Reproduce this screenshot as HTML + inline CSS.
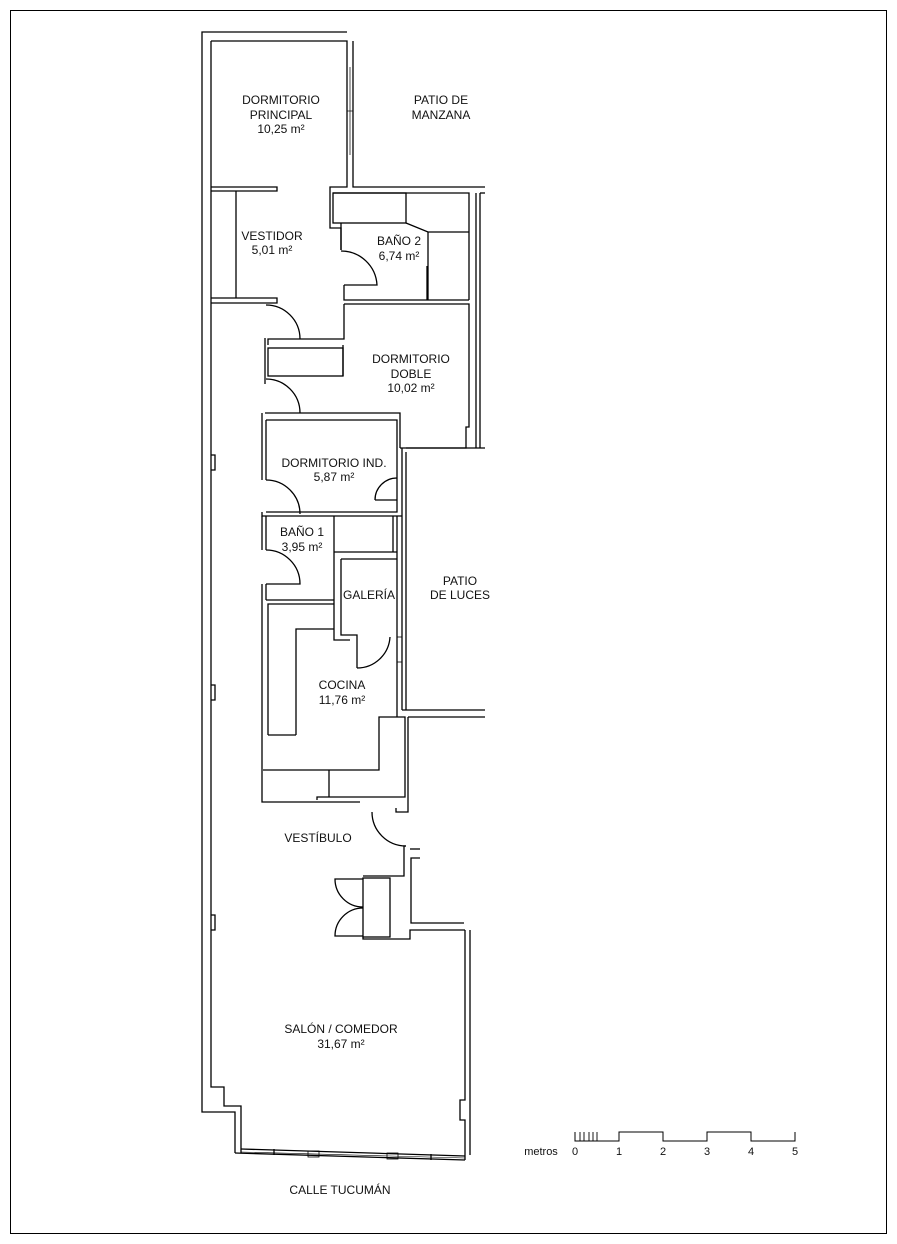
<!DOCTYPE html>
<html><head><meta charset="utf-8"><style>
html,body{margin:0;padding:0;background:#fff;}
svg{display:block;}
text{font-family:"Liberation Sans",sans-serif;font-size:12px;fill:#111;text-anchor:middle;}
</style></head><body>
<svg width="897" height="1244" viewBox="0 0 897 1244" xmlns="http://www.w3.org/2000/svg">
<rect x="10.5" y="10.5" width="876" height="1223" fill="none" stroke="#000" stroke-width="1"/>
<g fill="none" stroke="#000" stroke-width="1.3">
<!-- outer left -->
<polyline points="347,32 202,32 202,1112 235,1112 235,1153"/>
<polyline points="211,41 211,1087 224,1087 224,1106 241,1106 241,1153"/>
<!-- dormitorio principal -->
<polyline points="211,41 347,41 347,187 330,187 330,228 341,228 341,250"/>
<polyline points="353,41 353,187 485,187"/>
<line x1="350" y1="67" x2="350" y2="155" stroke-width="0.7"/>
<line x1="347" y1="111" x2="353" y2="111" stroke-width="0.7"/>
<polyline points="211,187 277,187 277,191 211,191"/>
<!-- vestidor -->
<line x1="236" y1="191" x2="236" y2="298"/>
<polyline points="211,298 277,298 277,303 211,303"/>
<!-- baño 2 -->
<polyline points="333,193 469,193 469,300"/>
<rect x="333" y="193" width="73" height="30"/>
<polyline points="341,223 341,250"/>
<polyline points="406,223 428,232 469,232"/>
<line x1="428" y1="232" x2="428" y2="300"/>
<line x1="427" y1="266" x2="427" y2="300"/>
<polyline points="344,285 344,300 469,300"/>
<line x1="476" y1="193" x2="476" y2="448"/>
<line x1="480" y1="193" x2="480" y2="448"/>
<line x1="480" y1="193" x2="485" y2="193"/>
<path d="M341,251 A36,36 0 0 1 377,285 L344,285"/>
<!-- dorm doble -->
<polyline points="344,304 469,304 469,427 466,427 466,448 400,448"/>
<polyline points="344,304 344,339 268,339 268,345"/>
<rect x="268" y="348" width="75" height="28"/>
<line x1="343" y1="345" x2="343" y2="376"/>
<line x1="265" y1="338" x2="265" y2="384"/>
<path d="M266,305 A34,34 0 0 1 300,339"/>
<path d="M266,379 A34,34 0 0 1 300,413"/>
<!-- dorm ind -->
<polyline points="265,413 400,413 400,448"/>
<polyline points="266,420 397,420 397,512 266,512"/>
<line x1="266" y1="420" x2="266" y2="480"/>
<line x1="262" y1="413" x2="262" y2="480"/>
<path d="M266,480 A34,34 0 0 1 300,514"/>
<path d="M397,478 A22,22 0 0 0 375,500"/>
<line x1="375" y1="500" x2="397" y2="500"/>
<polyline points="262,512 262,516 402,516"/>
<line x1="402" y1="448" x2="402" y2="710"/>
<line x1="406" y1="448" x2="485" y2="448"/>
<line x1="406" y1="452" x2="406" y2="710"/>
<line x1="402" y1="710" x2="485" y2="710"/>
<!-- baño 1 -->
<line x1="266" y1="516" x2="266" y2="550"/>
<line x1="262" y1="516" x2="262" y2="550"/>
<path d="M266,550 A34,34 0 0 1 300,584 L266,584"/>
<line x1="266" y1="584" x2="266" y2="600"/>
<line x1="262" y1="584" x2="262" y2="800"/>
<line x1="266" y1="600" x2="334" y2="600"/>
<line x1="334" y1="516" x2="334" y2="600"/>
<line x1="334" y1="552" x2="397" y2="552"/>
<line x1="393" y1="516" x2="393" y2="552"/>
<!-- galeria -->
<polyline points="341,559 397,559"/>
<polyline points="341,559 341,635 357,635 357,668"/>
<polyline points="334,600 334,640 350,640"/>
<path d="M357,668 A33,33 0 0 0 390,637"/>
<line x1="397" y1="516" x2="397" y2="717"/>
<rect x="397" y="637" width="5" height="25" stroke-width="0.8"/>
<!-- cocina counter -->
<polyline points="268,735 268,604 334,604"/>
<polyline points="296,735 296,629 334,629"/>
<line x1="268" y1="735" x2="296" y2="735"/>
<polyline points="263,770 379,770 379,717 405,717 405,797 317,797 317,800"/>
<line x1="329" y1="770" x2="329" y2="797"/>
<polyline points="262,800 262,802 360,802"/>
<polyline points="408,717 408,812 396,812 396,808"/>
<line x1="408" y1="717" x2="485" y2="717"/>
<!-- vestibulo door -->
<path d="M372,812 A34,34 0 0 0 406,846"/>
<polyline points="406,846 404,846 404,876 363,876"/>
<line x1="410" y1="849" x2="420" y2="849"/>
<polyline points="420,858 411,858 411,923 464,923"/>
<rect x="363" y="878" width="27" height="59"/>
<path d="M363,879 L335,879 A28,28 0 0 0 363,907"/>
<path d="M363,936 L335,936 A28,28 0 0 1 363,908"/>
<polyline points="363,937 363,939 410,939 410,930 465,930"/>
<!-- salon right -->
<polyline points="465,930 465,1100 460,1100 460,1120 465,1120 465,1160"/>
<line x1="470" y1="930" x2="470" y2="1155"/>
<!-- bottom window -->
<line x1="235" y1="1153" x2="465" y2="1160"/>
<line x1="241" y1="1149" x2="465" y2="1156"/>
<line x1="241" y1="1152" x2="465" y2="1158" stroke-width="0.6"/>
<rect x="308" y="1151" width="11" height="6" stroke-width="0.8"/>
<rect x="387" y="1153" width="11" height="6" stroke-width="0.8"/>
<line x1="274" y1="1149" x2="274" y2="1155"/>
<line x1="431" y1="1154" x2="431" y2="1160"/>
<polyline points="211,455 215,455 215,470 211,470"/>
<polyline points="211,685 215,685 215,700 211,700"/>
<polyline points="211,915 215,915 215,930 211,930"/>
<!-- scale bar -->
<polyline points="575,1132 575,1141 619,1141 619,1132 663,1132 663,1141 707,1141 707,1132 751,1132 751,1141 795,1141 795,1132" stroke-width="1"/>
<g stroke-width="0.9"><line x1="580" y1="1132" x2="580" y2="1141"/><line x1="584" y1="1132" x2="584" y2="1141"/><line x1="589" y1="1132" x2="589" y2="1141"/><line x1="593" y1="1132" x2="593" y2="1141"/><line x1="597" y1="1132" x2="597" y2="1141"/></g>
</g>
<text x="281" y="104">DORMITORIO</text>
<text x="281" y="119">PRINCIPAL</text>
<text x="281" y="133">10,25 m²</text>
<text x="441" y="104">PATIO DE</text>
<text x="441" y="119">MANZANA</text>
<text x="272" y="240">VESTIDOR</text>
<text x="272" y="254">5,01 m²</text>
<text x="399" y="245">BAÑO 2</text>
<text x="399" y="260">6,74 m²</text>
<text x="411" y="363">DORMITORIO</text>
<text x="411" y="378">DOBLE</text>
<text x="411" y="392">10,02 m²</text>
<text x="334" y="467">DORMITORIO IND.</text>
<text x="334" y="481">5,87 m²</text>
<text x="302" y="536">BAÑO 1</text>
<text x="302" y="551">3,95 m²</text>
<text x="369" y="599">GALERÍA</text>
<text x="460" y="585">PATIO</text>
<text x="460" y="599">DE LUCES</text>
<text x="342" y="689">COCINA</text>
<text x="342" y="704">11,76 m²</text>
<text x="318" y="842">VESTÍBULO</text>
<text x="341" y="1033">SALÓN / COMEDOR</text>
<text x="341" y="1048">31,67 m²</text>
<text x="340" y="1194">CALLE TUCUMÁN</text>
<text x="541" y="1155" style="font-size:11px">metros</text>
<text x="575" y="1155" style="font-size:11px">0</text>
<text x="619" y="1155" style="font-size:11px">1</text>
<text x="663" y="1155" style="font-size:11px">2</text>
<text x="707" y="1155" style="font-size:11px">3</text>
<text x="751" y="1155" style="font-size:11px">4</text>
<text x="795" y="1155" style="font-size:11px">5</text>
</svg>
</body></html>
